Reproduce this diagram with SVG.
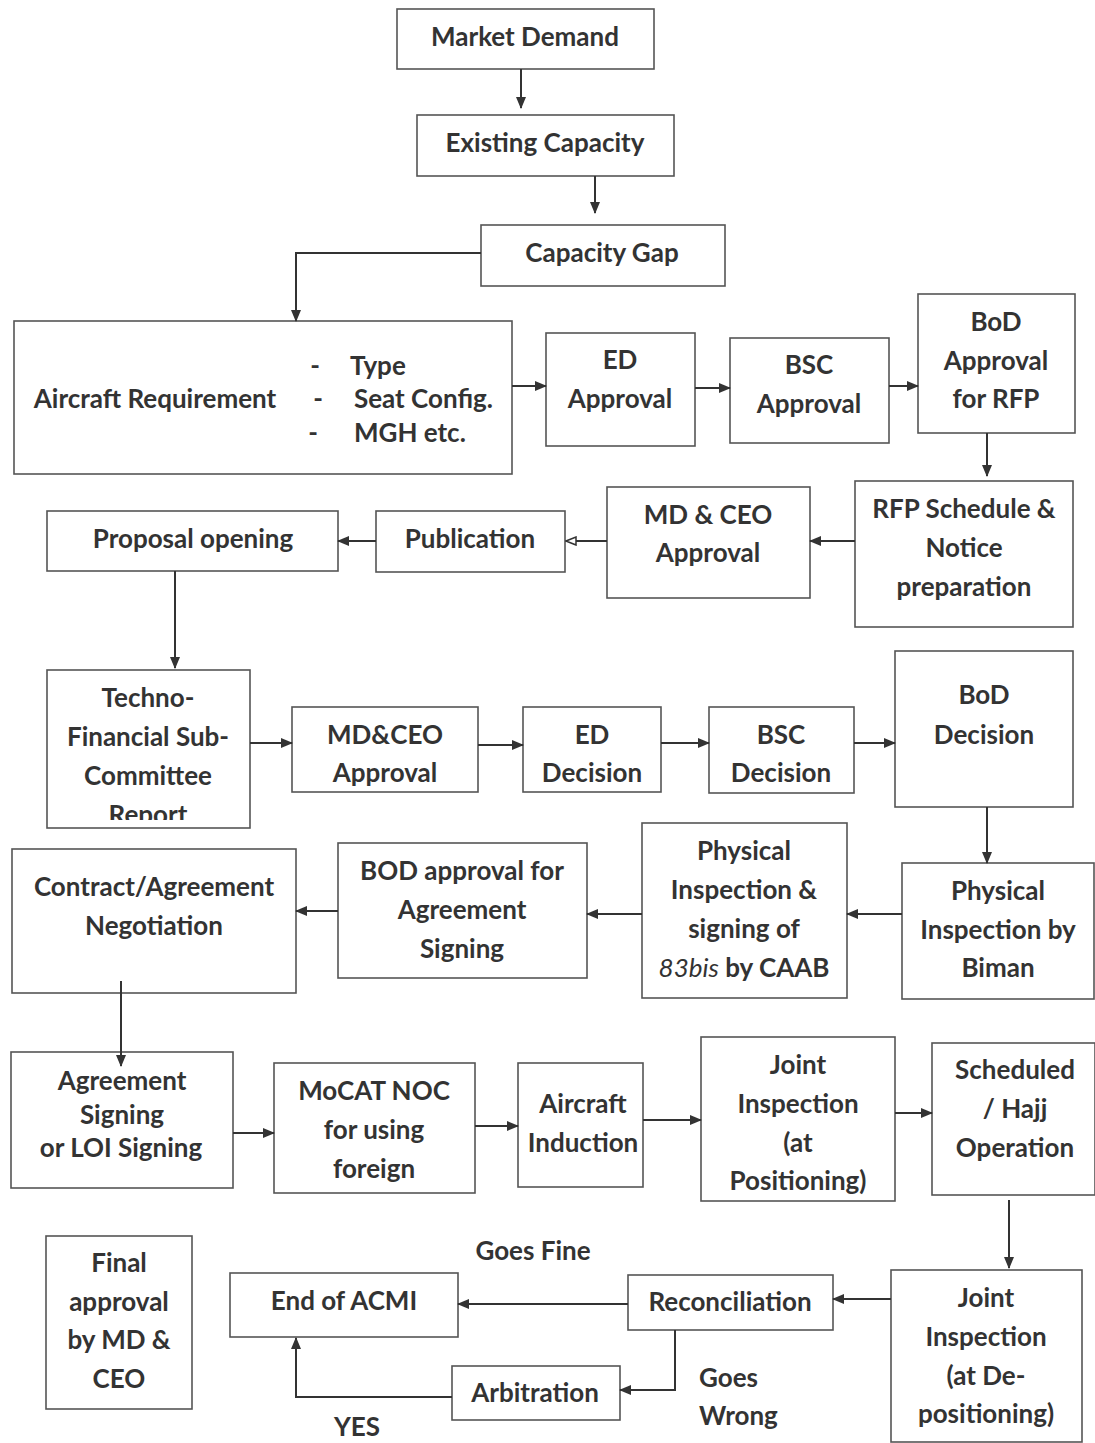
<svg xmlns="http://www.w3.org/2000/svg" width="1095" height="1443" viewBox="0 0 1095 1443">
<style>
.b{fill:#fff;stroke:#555;stroke-width:1.6}
.t{font-family:Lato,"Liberation Sans",sans-serif;font-weight:bold;font-size:26px;fill:#333;text-anchor:middle}
.l{text-anchor:start}
.c{fill:none;stroke:#333;stroke-width:2}
</style>
<defs>
<marker id="a" markerWidth="12" markerHeight="10" refX="11" refY="5" orient="auto" markerUnits="userSpaceOnUse"><path d="M0,0 L12,5 L0,10 z" fill="#333"/></marker>
<marker id="o" markerWidth="12" markerHeight="10" refX="11" refY="5" orient="auto" markerUnits="userSpaceOnUse"><path d="M1,1 L11,5 L1,9 z" fill="#fff" stroke="#333" stroke-width="1.5"/></marker>
<clipPath id="tc"><rect x="47" y="670" width="203" height="150"/></clipPath>
</defs>
<rect width="1095" height="1443" fill="#fff"/>
<g id="n1"><rect class="b" x="397" y="9" width="257" height="60"/><text class="t" x="525" y="46">Market Demand</text></g>
<g id="n2"><rect class="b" x="417" y="115" width="257" height="61"/><text class="t" x="545" y="152">Existing Capacity</text></g>
<g id="n3"><rect class="b" x="481" y="225" width="244" height="61"/><text class="t" x="602" y="262">Capacity Gap</text></g>
<g id="n4"><rect class="b" x="14" y="321" width="498" height="153"/>
<text class="t" x="155" y="408">Aircraft Requirement</text>
<text class="t" x="315" y="375">-</text><text class="t l" x="350" y="375">Type</text>
<text class="t" x="318" y="408">-</text><text class="t l" x="354" y="408">Seat Config.</text>
<text class="t" x="313" y="442">-</text><text class="t l" x="354" y="442">MGH etc.</text></g>
<g id="n5"><rect class="b" x="546" y="333" width="149" height="113"/><text class="t" x="620" y="369">ED</text><text class="t" x="620" y="408">Approval</text></g>
<g id="n6"><rect class="b" x="730" y="338" width="159" height="105"/><text class="t" x="809" y="374">BSC</text><text class="t" x="809" y="413">Approval</text></g>
<g id="n7"><rect class="b" x="918" y="294" width="157" height="139"/><text class="t" x="996" y="331">BoD</text><text class="t" x="996" y="370">Approval</text><text class="t" x="996" y="408">for RFP</text></g>
<g id="n8"><rect class="b" x="855" y="481" width="218" height="146"/><text class="t" x="964" y="518">RFP Schedule &amp;</text><text class="t" x="964" y="557">Notice</text><text class="t" x="964" y="596">preparation</text></g>
<g id="n9"><rect class="b" x="607" y="487" width="203" height="111"/><text class="t" x="708" y="524">MD &amp; CEO</text><text class="t" x="708" y="562">Approval</text></g>
<g id="n10"><rect class="b" x="376" y="511" width="189" height="61"/><text class="t" x="470" y="548">Publication</text></g>
<g id="n11"><rect class="b" x="47" y="511" width="291" height="60"/><text class="t" x="193" y="548">Proposal opening</text></g>
<g id="n12"><rect class="b" x="47" y="670" width="203" height="158"/><g clip-path="url(#tc)"><text class="t" x="148" y="707">Techno-</text><text class="t" x="148" y="746">Financial Sub-</text><text class="t" x="148" y="785">Committee</text><text class="t" x="148" y="824">Report</text></g></g>
<g id="n13"><rect class="b" x="292" y="707" width="186" height="85"/><text class="t" x="385" y="744">MD&amp;CEO</text><text class="t" x="385" y="782">Approval</text></g>
<g id="n14"><rect class="b" x="523" y="707" width="138" height="85"/><text class="t" x="592" y="744">ED</text><text class="t" x="592" y="782">Decision</text></g>
<g id="n15"><rect class="b" x="709" y="707" width="145" height="86"/><text class="t" x="781" y="744">BSC</text><text class="t" x="781" y="782">Decision</text></g>
<g id="n16"><rect class="b" x="895" y="651" width="178" height="156"/><text class="t" x="984" y="704">BoD</text><text class="t" x="984" y="744">Decision</text></g>
<g id="n17"><rect class="b" x="902" y="863" width="192" height="136"/><text class="t" x="998" y="900">Physical</text><text class="t" x="998" y="939">Inspection by</text><text class="t" x="998" y="977">Biman</text></g>
<g id="n18"><rect class="b" x="642" y="823" width="205" height="175"/><text class="t" x="744" y="860">Physical</text><text class="t" x="744" y="899">Inspection &amp;</text><text class="t" x="744" y="938">signing of</text><text class="t" x="744" y="977"><tspan font-style="italic" font-weight="normal">83bis</tspan> by CAAB</text></g>
<g id="n19"><rect class="b" x="338" y="843" width="249" height="135"/><text class="t" x="462" y="880">BOD approval for</text><text class="t" x="462" y="919">Agreement</text><text class="t" x="462" y="958">Signing</text></g>
<g id="n20"><rect class="b" x="12" y="849" width="284" height="144"/><text class="t" x="154" y="896">Contract/Agreement</text><text class="t" x="154" y="935">Negotiation</text></g>
<g id="n21"><rect class="b" x="11" y="1052" width="222" height="136"/><text class="t" x="122" y="1090">Agreement</text><text class="t" x="122" y="1124">Signing</text><text class="t" x="121" y="1157">or LOI Signing</text></g>
<g id="n22"><rect class="b" x="274" y="1063" width="201" height="130"/><text class="t" x="374" y="1100">MoCAT  NOC</text><text class="t" x="374" y="1139">for using</text><text class="t" x="374" y="1178">foreign</text></g>
<g id="n23"><rect class="b" x="518" y="1063" width="125" height="124"/><text class="t" x="583" y="1113" font-size="22">Aircraft</text><text class="t" x="583" y="1152" font-size="22">Induction</text></g>
<g id="n24"><rect class="b" x="701" y="1037" width="194" height="164"/><text class="t" x="798" y="1074">Joint</text><text class="t" x="798" y="1113">Inspection</text><text class="t" x="798" y="1152">(at</text><text class="t" x="798" y="1190">Positioning)</text></g>
<g id="n25"><rect class="b" x="932" y="1043" width="163" height="152"/><text class="t" x="1015" y="1079">Scheduled</text><text class="t" x="1015" y="1118">/ Hajj</text><text class="t" x="1015" y="1157">Operation</text></g>
<g id="n26"><rect class="b" x="891" y="1270" width="191" height="172"/><text class="t" x="986" y="1307">Joint</text><text class="t" x="986" y="1346">Inspection</text><text class="t" x="986" y="1385">(at De-</text><text class="t" x="986" y="1423">positioning)</text></g>
<g id="n27"><rect class="b" x="628" y="1275" width="205" height="55"/><text class="t" x="730" y="1311">Reconciliation</text></g>
<g id="n28"><rect class="b" x="230" y="1273" width="228" height="64"/><text class="t" x="344" y="1310">End of ACMI</text></g>
<g id="n29"><rect class="b" x="452" y="1366" width="168" height="54"/><text class="t" x="535" y="1402">Arbitration</text></g>
<g id="n30"><rect class="b" x="46" y="1236" width="146" height="173"/><text class="t" x="119" y="1272">Final</text><text class="t" x="119" y="1311">approval</text><text class="t" x="119" y="1349">by MD &amp;</text><text class="t" x="119" y="1388">CEO</text></g>
<g id="connectors">
<path class="c" d="M521,69 V108" marker-end="url(#a)"/>
<path class="c" d="M595,176 V213" marker-end="url(#a)"/>
<path class="c" d="M481,253 H296 V321" marker-end="url(#a)"/>
<path class="c" d="M512,386 H546" marker-end="url(#a)"/>
<path class="c" d="M695,388 H730" marker-end="url(#a)"/>
<path class="c" d="M889,386 H918" marker-end="url(#a)"/>
<path class="c" d="M987,433 V476" marker-end="url(#a)"/>
<path class="c" d="M855,541 H810" marker-end="url(#a)"/>
<path class="c" d="M607,541 H566" marker-end="url(#o)"/>
<path class="c" d="M376,541 H338" marker-end="url(#a)"/>
<path class="c" d="M175,571 V668" marker-end="url(#a)"/>
<path class="c" d="M250,743 H292" marker-end="url(#a)"/>
<path class="c" d="M478,745 H523" marker-end="url(#a)"/>
<path class="c" d="M661,743 H709" marker-end="url(#a)"/>
<path class="c" d="M854,743 H895" marker-end="url(#a)"/>
<path class="c" d="M987,807 V863" marker-end="url(#a)"/>
<path class="c" d="M902,914 H847" marker-end="url(#a)"/>
<path class="c" d="M642,914 H587" marker-end="url(#a)"/>
<path class="c" d="M338,911 H296" marker-end="url(#a)"/>
<path class="c" d="M121,981 V1066" marker-end="url(#a)"/>
<path class="c" d="M233,1133 H274" marker-end="url(#a)"/>
<path class="c" d="M475,1126 H518" marker-end="url(#a)"/>
<path class="c" d="M643,1120 H701" marker-end="url(#a)"/>
<path class="c" d="M895,1113 H932" marker-end="url(#a)"/>
<path class="c" d="M1009,1200 V1268" marker-end="url(#a)"/>
<path class="c" d="M891,1299 H833" marker-end="url(#a)"/>
<path class="c" d="M628,1304 H458" marker-end="url(#a)"/>
<path class="c" d="M675,1330 V1390 H620" marker-end="url(#a)"/>
<path class="c" d="M452,1397 H296 V1338" marker-end="url(#a)"/>
</g>
<g id="labels">
<text class="t" x="357" y="1436" font-size="22">YES</text>
<text class="t" x="533" y="1260">Goes Fine</text>
<text class="t l" x="699" y="1387">Goes</text>
<text class="t l" x="699" y="1425">Wrong</text>
</g>
</svg>
